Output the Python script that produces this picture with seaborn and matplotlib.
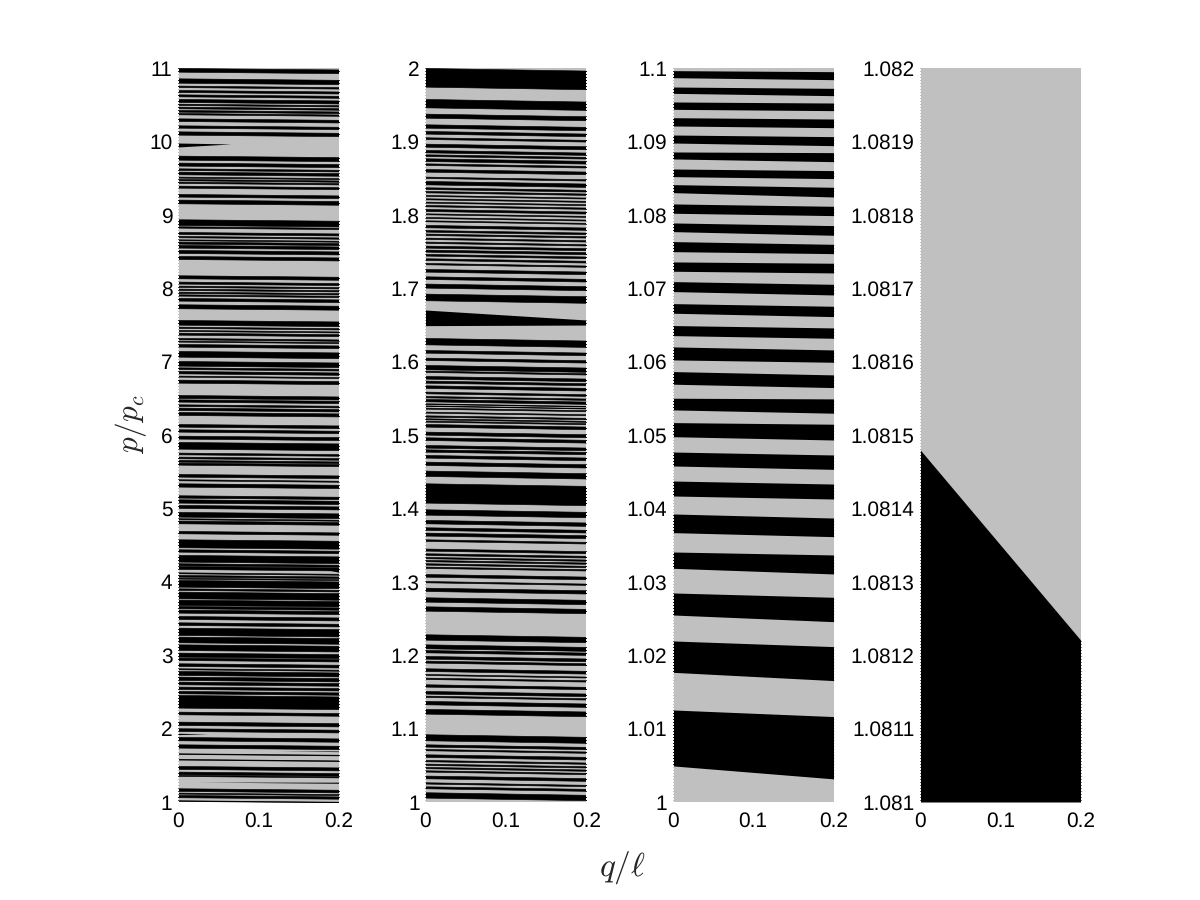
import numpy as np
import matplotlib
matplotlib.use("Agg")
import matplotlib.pyplot as plt
import seaborn as sns

# black bands, upper and lower edge in p/pc at q/l = 0
p1_hi = [11.0, 10.859, 10.76, 10.70, 10.641, 10.578, 10.514, 10.473, 10.428, 10.387, 10.314, 10.219, 10.137,
         9.806, 9.711, 9.633, 9.588, 9.520, 9.488, 9.452, 9.397, 9.284, 9.207,
         8.939, 8.844, 8.766, 8.712, 8.666, 8.635, 8.589, 8.521, 8.439, 8.176, 8.090, 8.035, 7.994, 7.953, 7.917, 7.867, 7.781,
         7.567, 7.476, 7.431, 7.394, 7.322, 7.285, 7.240, 7.145, 7.008, 6.922, 6.872, 6.809, 6.754,
         6.545, 6.486, 6.418, 6.373, 6.314, 6.150, 6.078, 5.991, 5.905, 5.760, 5.705, 5.660, 5.624,
         5.469, 5.397, 5.342, 5.179, 5.124, 5.047, 4.952, 4.866, 4.834, 4.693, 4.579, 4.443, 4.366, 4.253,
         4.215, 4.129, 4.093, 4.056, 4.025, 3.911, 3.866, 3.757, 3.671, 3.621, 3.534, 3.448, 3.375, 3.253, 3.148, 3.035,
         2.967, 2.890, 2.822, 2.785, 2.708, 2.640, 2.572, 2.513, 2.458, 2.231, 2.095, 2.005, 1.886, 1.786,
         1.664, 1.587, 1.491, 1.414, 1.369, 1.187, 1.128, 1.096, 1.024]
p1_lo = [10.95, 10.80, 10.74, 10.673, 10.614, 10.537, 10.496, 10.451, 10.405, 10.369, 10.278, 10.187, 10.092,
         9.751, 9.670, 9.611, 9.552, 9.506, 9.470, 9.434, 9.370, 9.248, 9.157,
         8.861, 8.825, 8.739, 8.694, 8.653, 8.607, 8.553, 8.480, 8.398, 8.135, 8.063, 8.017, 7.976, 7.935, 7.899, 7.831, 7.727,
         7.503, 7.458, 7.417, 7.367, 7.303, 7.272, 7.204, 7.067, 6.945, 6.899, 6.840, 6.795, 6.713,
         6.504, 6.455, 6.396, 6.341, 6.273, 6.114, 6.046, 5.951, 5.814, 5.737, 5.683, 5.637, 5.596,
         5.433, 5.383, 5.297, 5.147, 5.079, 5.006, 4.888, 4.852, 4.797, 4.661, 4.471, 4.411, 4.275, 4.225,
         4.175, 4.116, 4.070, 4.043, 3.934, 3.889, 3.775, 3.684, 3.639, 3.580, 3.494, 3.412, 3.276, 3.176, 3.071, 2.980,
         2.935, 2.853, 2.808, 2.731, 2.663, 2.604, 2.540, 2.481, 2.286, 2.195, 2.050, 1.968, 1.841, 1.741,
         1.655, 1.578, 1.451, 1.378, 1.355, 1.151, 1.114, 1.065, 1.015]
p1_drop = 0.02

# bands that open or close inside the panel: hi/lo at q=0, hi/lo at q=0.2
p1_w_hi0 = [9.978, 1.936, 1.705, 1.272, 4.175]
p1_w_lo0 = [9.924, 1.918, 1.720, 1.274, 4.60]
p1_w_hi1 = [9.94, 1.90, 1.695, 1.270, 4.17]
p1_w_lo1 = [10.05, 1.98, 1.686, 1.255, 4.13]

p2_hi = [2.0, 1.9578, 1.9378, 1.9233, 1.9142, 1.9056, 1.8969, 1.8883, 1.8824, 1.8770, 1.8701, 1.8624, 1.8520, 1.8461,
         1.8375, 1.8325, 1.8270, 1.8225, 1.8179, 1.8134, 1.8079, 1.8020, 1.7970, 1.7925, 1.7862, 1.7793, 1.7744, 1.7689,
         1.7635, 1.7580, 1.7526, 1.7467, 1.7408, 1.7344, 1.7262, 1.7162, 1.7063, 1.6926,
         1.6322, 1.6158, 1.6054, 1.5954, 1.5877, 1.5804, 1.5741, 1.5677, 1.5591, 1.5532, 1.5491, 1.5432, 1.5404, 1.5373,
         1.5318, 1.5268, 1.5228, 1.5196, 1.5150, 1.5046, 1.4969, 1.4864, 1.4805, 1.4728, 1.4637, 1.4515, 1.4342, 1.3988,
         1.3843, 1.3743, 1.3670, 1.3579, 1.3453, 1.3389, 1.3339, 1.3298, 1.3253, 1.3207,
         1.3106, 1.3011, 1.2920, 1.2789, 1.2666, 1.2285, 1.2148, 1.2071, 1.1990, 1.1926, 1.1822, 1.1744, 1.1694, 1.1604,
         1.1513, 1.1449, 1.1377, 1.1268, 1.0923, 1.0786, 1.0723, 1.0650, 1.0573, 1.0523, 1.0478, 1.0432, 1.0360, 1.0269,
         1.0214, 1.0133]
p2_lo = [1.9746, 1.9464, 1.9323, 1.9187, 1.9106, 1.9033, 1.8928, 1.8851, 1.8801, 1.8733, 1.8679, 1.8588, 1.8502, 1.8415,
         1.8352, 1.8306, 1.8257, 1.8211, 1.8166, 1.8116, 1.8052, 1.8007, 1.7957, 1.7912, 1.7830, 1.7771, 1.7725, 1.7671,
         1.7617, 1.7553, 1.7498, 1.7444, 1.7385, 1.7326, 1.7226, 1.7126, 1.7008, 1.6836,
         1.6235, 1.6122, 1.6022, 1.5895, 1.5859, 1.5768, 1.5713, 1.5641, 1.5568, 1.5513, 1.5459, 1.5423, 1.5396, 1.5359,
         1.5305, 1.5250, 1.5214, 1.5182, 1.5114, 1.5005, 1.4932, 1.4828, 1.4773, 1.4692, 1.4592, 1.4442, 1.4079, 1.3915,
         1.3797, 1.3707, 1.3630, 1.3557, 1.3425, 1.3366, 1.3321, 1.3280, 1.3234, 1.3189,
         1.3070, 1.2993, 1.2875, 1.2730, 1.2607, 1.2212, 1.2094, 1.2039, 1.1953, 1.1899, 1.1785, 1.1731, 1.1676, 1.1572,
         1.1477, 1.1431, 1.1331, 1.1204, 1.0841, 1.0755, 1.0705, 1.0614, 1.0555, 1.0505, 1.0460, 1.0414, 1.0323, 1.0251,
         1.0187, 1.0060]
p2_drop = 0.0035
p2_w_hi0 = [1.6703]
p2_w_lo0 = [1.6490]
p2_w_hi1 = [1.6567]
p2_w_lo1 = [1.6498]

p3_hi0 = [1.09964, 1.09741, 1.09537, 1.09323, 1.09087, 1.08856, 1.08624, 1.08411, 1.08148, 1.07889, 1.07635, 1.07358,
          1.07090, 1.06790, 1.06491, 1.06200, 1.05864, 1.05501, 1.05169, 1.04768, 1.04373, 1.03924, 1.03406, 1.02848,
          1.02194, 1.01254]
p3_lo0 = [1.09868, 1.09655, 1.09437, 1.09210, 1.08978, 1.08761, 1.08520, 1.08302, 1.08021, 1.07771, 1.07498, 1.07231,
          1.06954, 1.06659, 1.06354, 1.06023, 1.05692, 1.05342, 1.04977, 1.04578, 1.04169, 1.03670, 1.03184, 1.02548,
          1.01767, 1.00492]
p3_hi1 = [1.09950, 1.09723, 1.09523, 1.09305, 1.09065, 1.08847, 1.08602, 1.08375, 1.08116, 1.07853, 1.07598, 1.07340,
          1.07053, 1.06754, 1.06459, 1.06159, 1.05819, 1.05492, 1.05147, 1.04728, 1.04332, 1.03869, 1.03366, 1.02789,
          1.02117, 1.01164]
p3_lo1 = [1.09841, 1.09623, 1.09419, 1.09187, 1.08942, 1.08724, 1.08493, 1.08243, 1.07989, 1.07721, 1.07471, 1.07208,
          1.06908, 1.06613, 1.06318, 1.05991, 1.05646, 1.05297, 1.04932, 1.04532, 1.04128, 1.03615, 1.03107, 1.02457,
          1.01654, 1.00315]

p4_hi0 = [1.08148]
p4_lo0 = [1.081]
p4_hi1 = [1.08122]
p4_lo1 = [1.081]

y1_ticks = [1, 2, 3, 4, 5, 6, 7, 8, 9, 10, 11]
y1_labels = ["1", "2", "3", "4", "5", "6", "7", "8", "9", "10", "11"]
y2_ticks = [1, 1.1, 1.2, 1.3, 1.4, 1.5, 1.6, 1.7, 1.8, 1.9, 2]
y2_labels = ["1", "1.1", "1.2", "1.3", "1.4", "1.5", "1.6", "1.7", "1.8", "1.9", "2"]
y3_ticks = [1, 1.01, 1.02, 1.03, 1.04, 1.05, 1.06, 1.07, 1.08, 1.09, 1.1]
y3_labels = ["1", "1.01", "1.02", "1.03", "1.04", "1.05", "1.06", "1.07", "1.08", "1.09", "1.1"]
y4_ticks = [1.081, 1.0811, 1.0812, 1.0813, 1.0814, 1.0815, 1.0816, 1.0817, 1.0818, 1.0819, 1.082]
y4_labels = ["1.081", "1.0811", "1.0812", "1.0813", "1.0814", "1.0815", "1.0816", "1.0817", "1.0818", "1.0819", "1.082"]
x_ticks = [0, 0.1, 0.2]
x_labels = ["0", "0.1", "0.2"]

GREY = "#c0c0c0"


def draw_bands(ax, hi0, lo0, hi1, lo1, lw=0.0):
    # pixel-hard edges like the original bitmap
    q = np.linspace(0, 0.2, 322)
    t = q / 0.2
    for a, b, c, d in zip(hi0, lo0, hi1, lo1):
        top = a + (c - a) * t
        bot = b + (d - b) * t
        ax.fill_between(q, bot, top, where=top > bot, facecolor="black", edgecolor="black",
                        linewidth=lw, antialiased=False)


sns.set_style("white")
plt.rcParams["font.family"] = ["Liberation Sans", "DejaVu Sans"]
plt.rcParams["mathtext.fontset"] = "cm"
plt.rcParams["text.hinting"] = "no_hinting"

fig, axes = plt.subplots(1, 4, figsize=(12, 9), dpi=100)
fig.subplots_adjust(left=178 / 1200, right=1081 / 1200, top=1 - 68 / 900, bottom=1 - 802 / 900, wspace=0.537)

draw_bands(axes[0], p1_hi, p1_lo, [v - p1_drop for v in p1_hi], [v - p1_drop for v in p1_lo], lw=0.45)
draw_bands(axes[0], p1_w_hi0, p1_w_lo0, p1_w_hi1, p1_w_lo1)
draw_bands(axes[1], p2_hi, p2_lo, [v - p2_drop for v in p2_hi], [v - p2_drop for v in p2_lo], lw=0.45)
draw_bands(axes[1], p2_w_hi0, p2_w_lo0, p2_w_hi1, p2_w_lo1)
draw_bands(axes[2], p3_hi0, p3_lo0, p3_hi1, p3_lo1)
draw_bands(axes[3], p4_hi0, p4_lo0, p4_hi1, p4_lo1)

all_ticks = [y1_ticks, y2_ticks, y3_ticks, y4_ticks]
all_labels = [y1_labels, y2_labels, y3_labels, y4_labels]
for ax, ticks, labels in zip(axes, all_ticks, all_labels):
    ax.set_facecolor(GREY)
    ax.set_xlim(0, 0.2)
    ax.set_ylim(ticks[0], ticks[-1])
    ax.set_xticks(x_ticks)
    ax.set_xticklabels(x_labels)
    ax.set_yticks(ticks)
    ax.set_yticklabels(labels)
    ax.tick_params(axis="both", length=0, labelsize=15, colors="black")
    ax.tick_params(axis="y", pad=4)
    ax.tick_params(axis="x", pad=7)
    for edge in x_ticks[0], x_ticks[-1]:
        ax.axvline(edge, color="white", lw=1, ls=(0, (1, 1)), antialiased=False, clip_on=False)
    sns.despine(ax=ax, left=True, bottom=True)

fig.text(131 / 1200, 1 - 424 / 900, r"$p/p_c$", rotation=90, fontsize=22.5, ha="center", va="center")
fig.text(622 / 1200, 1 - 868 / 900, r"$q/\ell$", fontsize=24, ha="center", va="center")

fig.savefig("out.png", dpi=100, facecolor="white")
